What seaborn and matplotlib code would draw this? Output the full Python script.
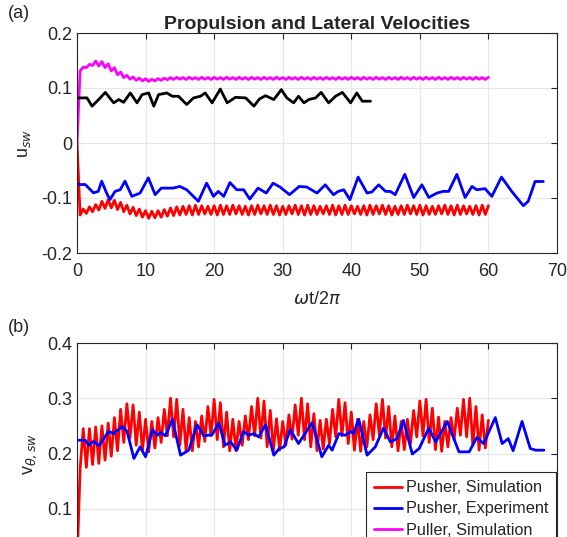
import numpy as np
import matplotlib
matplotlib.use("Agg")
import matplotlib.pyplot as plt
import seaborn as sns

# ---- data ----
# simulation series: alternating troughs / highs, one pair per stroke (66 strokes over 60 periods)
push_sim_u_low = [-0.131, -0.128, -0.125, -0.122, -0.119, -0.118, -0.121, -0.125, -0.129, -0.132,
                  -0.135, -0.137, -0.136, -0.135, -0.133, -0.132, -0.131, -0.130, -0.131, -0.130,
                  -0.129, -0.130, -0.131, -0.130, -0.130, -0.129, -0.130, -0.131, -0.130, -0.129,
                  -0.130, -0.130, -0.131, -0.130, -0.129, -0.130, -0.131, -0.130, -0.130, -0.129,
                  -0.130, -0.131, -0.130, -0.130, -0.129, -0.130, -0.131, -0.130, -0.129, -0.130,
                  -0.131, -0.130, -0.130, -0.129, -0.130, -0.131, -0.130, -0.130, -0.129, -0.130,
                  -0.131, -0.130, -0.129, -0.130, -0.131, -0.130]
push_sim_u_high = [-0.120, -0.116, -0.112, -0.106, -0.103, -0.104, -0.108, -0.113, -0.117, -0.120,
                   -0.123, -0.124, -0.123, -0.121, -0.118, -0.116, -0.115, -0.114, -0.113, -0.114,
                   -0.115, -0.114, -0.113, -0.114, -0.113, -0.114, -0.115, -0.114, -0.113, -0.114,
                   -0.113, -0.114, -0.115, -0.114, -0.113, -0.114, -0.113, -0.114, -0.115, -0.114,
                   -0.113, -0.114, -0.113, -0.114, -0.115, -0.114, -0.113, -0.114, -0.113, -0.114,
                   -0.115, -0.114, -0.113, -0.114, -0.113, -0.114, -0.115, -0.114, -0.113, -0.114,
                   -0.113, -0.114, -0.115, -0.114, -0.113, -0.114]

pull_sim_u_low = [0.131, 0.137, 0.141, 0.140, 0.137, 0.131, 0.124, 0.119, 0.116, 0.114,
                  0.113, 0.112, 0.113, 0.114, 0.115, 0.1155, 0.116, 0.1155, 0.116, 0.1155,
                  0.116, 0.1155, 0.116, 0.1155, 0.116, 0.1155, 0.116, 0.1155, 0.116, 0.1155,
                  0.116, 0.1155, 0.116, 0.1155, 0.116, 0.1155, 0.116, 0.1155, 0.116, 0.1155,
                  0.116, 0.1155, 0.116, 0.1155, 0.116, 0.1155, 0.116, 0.1155, 0.116, 0.1155,
                  0.116, 0.1155, 0.116, 0.1155, 0.116, 0.1155, 0.116, 0.1155, 0.116, 0.1155,
                  0.116, 0.1155, 0.116, 0.1155, 0.116, 0.1155]
pull_sim_u_high = [0.138, 0.143, 0.149, 0.148, 0.144, 0.137, 0.129, 0.123, 0.120, 0.118,
                   0.117, 0.116, 0.117, 0.118, 0.119, 0.1195, 0.119, 0.1195, 0.119, 0.1195,
                   0.119, 0.1195, 0.119, 0.1195, 0.119, 0.1195, 0.119, 0.1195, 0.119, 0.1195,
                   0.119, 0.1195, 0.119, 0.1195, 0.119, 0.1195, 0.119, 0.1195, 0.119, 0.1195,
                   0.119, 0.1195, 0.119, 0.1195, 0.119, 0.1195, 0.119, 0.1195, 0.119, 0.1195,
                   0.119, 0.1195, 0.119, 0.1195, 0.119, 0.1195, 0.119, 0.1195, 0.119, 0.1195,
                   0.119, 0.1195, 0.119, 0.1195, 0.119, 0.1195]

push_sim_v_low = [0.172, 0.175, 0.180, 0.182, 0.188, 0.195, 0.205, 0.220, 0.228, 0.215,
                  0.205, 0.203, 0.210, 0.220, 0.232, 0.230, 0.215, 0.205, 0.205, 0.212,
                  0.222, 0.232, 0.225, 0.212, 0.205, 0.205, 0.215, 0.225, 0.232, 0.228,
                  0.212, 0.205, 0.206, 0.215, 0.226, 0.233, 0.225, 0.212, 0.205, 0.208,
                  0.218, 0.230, 0.232, 0.218, 0.206, 0.204, 0.212, 0.225, 0.233, 0.228,
                  0.212, 0.205, 0.207, 0.218, 0.230, 0.232, 0.220, 0.207, 0.204, 0.212,
                  0.225, 0.233, 0.230, 0.215, 0.206, 0.210]
push_sim_v_high = [0.245, 0.245, 0.248, 0.250, 0.255, 0.265, 0.280, 0.290, 0.288, 0.275,
                   0.262, 0.258, 0.265, 0.280, 0.300, 0.298, 0.280, 0.265, 0.258, 0.268,
                   0.285, 0.298, 0.292, 0.275, 0.262, 0.258, 0.268, 0.285, 0.300, 0.295,
                   0.278, 0.263, 0.258, 0.270, 0.288, 0.300, 0.290, 0.272, 0.260, 0.262,
                   0.280, 0.298, 0.292, 0.275, 0.262, 0.258, 0.270, 0.290, 0.298, 0.285,
                   0.268, 0.258, 0.262, 0.278, 0.295, 0.298, 0.282, 0.266, 0.258, 0.265,
                   0.282, 0.298, 0.300, 0.285, 0.270, 0.260]

push_exp_u_t = [0, 1.2, 2.4, 3.1, 3.6, 4.3, 4.8, 5.55, 6.3, 7.0, 8.0, 9.2, 10.4, 11.4, 12.3, 14.0,
                15.0, 16.0, 17.7, 18.9, 19.9, 20.6, 21.4, 22.3, 23.3, 24.3, 25.2, 26.4, 27.6, 28.6,
                29.6, 31.0, 32.4, 33.5, 35.0, 36.2, 37.4, 38.1, 38.9, 39.8, 41.0, 42.3, 43.0, 44.0,
                45.0, 45.7, 46.4, 47.8, 49.1, 50.3, 51.3, 52.5, 53.4, 54.2, 55.4, 56.6, 57.6, 58.3,
                59.5, 60.5, 61.9, 63.4, 65.1, 65.8, 66.8, 68.0]
push_exp_u = [-0.0755, -0.0755, -0.0906, -0.088, -0.0694, -0.0906, -0.103, -0.088, -0.085, -0.0694,
              -0.097, -0.091, -0.0633, -0.094, -0.082, -0.082, -0.079, -0.085, -0.106, -0.073,
              -0.097, -0.088, -0.097, -0.072, -0.085, -0.085, -0.102, -0.082, -0.091, -0.073,
              -0.080, -0.094, -0.079, -0.080, -0.091, -0.076, -0.094, -0.088, -0.085, -0.103,
              -0.062, -0.091, -0.089, -0.076, -0.088, -0.088, -0.094, -0.057, -0.099, -0.076,
              -0.099, -0.091, -0.088, -0.088, -0.057, -0.099, -0.079, -0.085, -0.083, -0.097,
              -0.062, -0.088, -0.114, -0.106, -0.070, -0.070]

pull_exp_u_t = [0, 1.46, 2.19, 3.16, 4.13, 5.35, 6.08, 6.8, 7.78, 8.75, 9.5, 10.45, 11.2, 11.9,
                13.1, 13.9, 14.8, 16.0, 17.0, 18.0, 18.7, 19.7, 20.9, 21.9, 23.1, 24.6, 25.8,
                26.6, 27.5, 28.7, 29.8, 30.6, 31.6, 32.3, 33.1, 33.8, 34.8, 35.6, 36.7, 37.7,
                38.7, 39.9, 40.8, 41.6, 42.8]
pull_exp_u = [0.082, 0.082, 0.067, 0.079, 0.092, 0.073, 0.079, 0.074, 0.091, 0.073, 0.088, 0.091,
              0.067, 0.088, 0.091, 0.085, 0.085, 0.070, 0.082, 0.085, 0.091, 0.073, 0.098, 0.073,
              0.083, 0.082, 0.067, 0.080, 0.086, 0.079, 0.097, 0.082, 0.073, 0.085, 0.073, 0.079,
              0.082, 0.092, 0.073, 0.085, 0.092, 0.073, 0.091, 0.076, 0.076]

push_exp_v_t = [0, 1.2, 1.7, 2.4, 3.2, 4.6, 5.35, 6.6, 7.3, 8.3, 9.2, 10.0, 11.0, 11.7, 12.2, 12.9,
                13.9, 15.1, 16.3, 17.5, 18.5, 19.7, 20.7, 21.6, 22.4, 23.3, 24.3, 25.0, 25.8, 26.5,
                27.5, 28.7, 29.5, 30.2, 31.1, 32.3, 34.3, 35.7, 36.7, 37.2, 38.2, 39.1, 39.9, 40.3,
                41.1, 42.3, 43.5, 44.7, 45.7, 46.7, 47.6, 48.9, 49.9, 51.3, 52.3, 54.0, 55.7, 57.2,
                58.3, 59.3, 61.0, 62.0, 62.9, 63.6, 64.9, 66.1, 66.9, 68.1]
push_exp_v = [0.224, 0.224, 0.215, 0.222, 0.214, 0.240, 0.236, 0.249, 0.240, 0.191, 0.212, 0.194,
              0.243, 0.233, 0.238, 0.232, 0.262, 0.197, 0.206, 0.252, 0.232, 0.234, 0.255, 0.215,
              0.221, 0.206, 0.240, 0.233, 0.236, 0.230, 0.252, 0.197, 0.209, 0.212, 0.243, 0.218,
              0.256, 0.194, 0.215, 0.206, 0.236, 0.233, 0.240, 0.236, 0.262, 0.197, 0.212, 0.246,
              0.221, 0.227, 0.260, 0.199, 0.209, 0.246, 0.221, 0.258, 0.203, 0.203, 0.229, 0.218,
              0.265, 0.218, 0.227, 0.205, 0.258, 0.209, 0.206, 0.206]

labels = ["Pusher, Simulation", "Pusher, Experiment", "Puller, Simulation"]
colors = ["#ff0000", "#0000ff", "#ff00ff", "#000000"]


def stroke_series(start, lows, highs, t_end=60):
    # start value, then trough/high pairs evenly over the run
    vals = [start]
    for lo, hi in zip(lows, highs):
        vals += [lo, hi]
    t = np.linspace(0, t_end, len(vals))
    return t, vals


sns.set_style("whitegrid")
plt.rcParams["font.family"] = ["Liberation Sans", "DejaVu Sans"]
plt.rcParams["axes.unicode_minus"] = False
plt.rcParams["mathtext.fontset"] = "dejavusans"

fig = plt.figure(figsize=(5.67, 5.37), dpi=100)
ax1 = fig.add_axes([77 / 567, (537 - 253) / 537, 480 / 567, 220 / 537])
ax2 = fig.add_axes([77 / 567, (537 - 564) / 537, 480 / 567, 221 / 537])

kw = dict(lw=2.0, sort=False, estimator=None, solid_joinstyle="round")

# panel (a)
t, v = stroke_series(0.0, push_sim_u_low, push_sim_u_high)
sns.lineplot(x=t, y=v, ax=ax1, color=colors[0], **kw)
sns.lineplot(x=push_exp_u_t, y=push_exp_u, ax=ax1, color=colors[1], **kw)
t, v = stroke_series(0.0, pull_sim_u_low, pull_sim_u_high)
sns.lineplot(x=t, y=v, ax=ax1, color=colors[2], **kw)
sns.lineplot(x=pull_exp_u_t, y=pull_exp_u, ax=ax1, color=colors[3], **kw)

# panel (b)
t, v = stroke_series(0.0, push_sim_v_low, push_sim_v_high)
sns.lineplot(x=t, y=v, ax=ax2, color=colors[0], label=labels[0], **kw)
sns.lineplot(x=push_exp_v_t, y=push_exp_v, ax=ax2, color=colors[1], label=labels[1], **kw)
ax2.plot([], [], color=colors[2], lw=2.0, label=labels[2])

for ax in (ax1, ax2):
    ax.set_xlim(0, 70)
    ax.set_xticks(range(0, 71, 10))
    ax.grid(True, color="#e6e6e6", lw=0.8)
    ax.set_facecolor("white")
    for sp in ax.spines.values():
        sp.set_color("#262626")
        sp.set_linewidth(0.8)
    ax.tick_params(direction="in", length=4, width=0.8, color="#262626", labelsize=13,
                   labelcolor="#262626", top=True, right=True)
    ax.tick_params(axis="x", pad=7)
    ax.yaxis.set_major_formatter(matplotlib.ticker.FuncFormatter(lambda v, p: f"{v:g}"))

ax1.set_ylim(-0.2, 0.2)
ax1.set_yticks([-0.2, -0.1, 0, 0.1, 0.2])
ax1.set_xlabel(r"$\omega$t/2$\pi$", fontsize=13, color="#262626", labelpad=8)
ax1.set_ylabel(r"u$_{sw}$", fontsize=13, color="#262626", labelpad=6)
ax1.set_title("Propulsion and Lateral Velocities", fontsize=14, fontweight="bold", pad=3)

# lower panel runs past the bottom edge of the figure, as in the reference
ax2.set_ylim(0, 0.4)
ax2.set_yticks([0.1, 0.2, 0.3, 0.4])
ax2.set_xlabel("")
ax2.tick_params(axis="x", labelbottom=False)
ax2.set_ylabel(r"v$_{\theta,sw}$", fontsize=13, color="#262626", labelpad=6)

leg = ax2.legend(loc="upper right", bbox_to_anchor=(0.998, 0.416), fontsize=11.7, frameon=True,
                 fancybox=False, framealpha=1, edgecolor="#262626", borderaxespad=0,
                 handlelength=1.75, handletextpad=0.2, labelspacing=0.38, borderpad=0.5)
leg.get_frame().set_linewidth(0.8)

fig.text(8 / 567, 1 - 14 / 537, "(a)", fontsize=13, va="center", ha="left")
fig.text(8 / 567, 1 - 328 / 537, "(b)", fontsize=13, va="center", ha="left")

fig.savefig("out.png", dpi=100)
